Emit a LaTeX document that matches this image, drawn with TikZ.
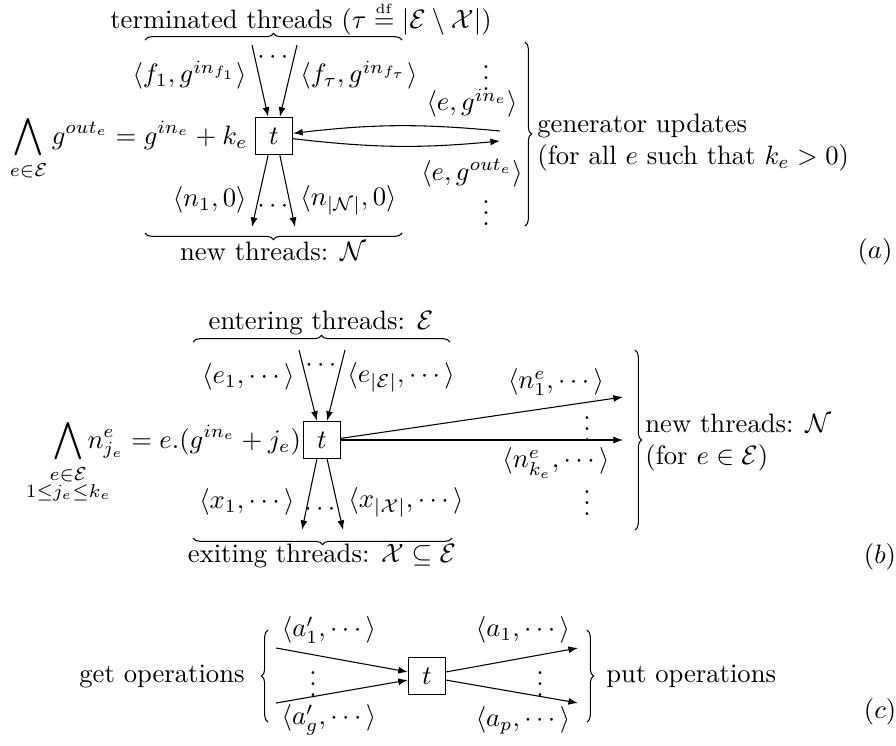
\documentclass[tikz,border=0pt]{standalone}
\usepackage{amsmath,amssymb,mathtools}
\usetikzlibrary{arrows.meta,positioning,decorations.pathreplacing}

\begin{document}
\begin{tikzpicture}[x=0.0132cm, y=-0.0132cm,
    box/.style={draw, minimum size=14pt, inner sep=0pt},
    arr/.style={-{Latex[length=3.6pt,width=2.6pt]}},
    curly/.style={decorate, decoration={brace, amplitude=2.5pt}},
    dotsn/.style={inner sep=0pt},
]
  \useasboundingbox (0,0) rectangle (896,745);

  \node[box] (ta) at (274,136) {$t$};
  \node[anchor=base east, inner sep=2.5pt] (lhsa) at (ta.base west)
    {$\displaystyle\bigwedge_{e\in\mathcal{E}} g^{out_e} = g^{in_e}+k_e$};
  \node (terma) at (301,18) {terminated threads ($\tau \stackrel{\scriptscriptstyle\mathrm{df}}{=} |\mathcal{E}\setminus\mathcal{X}|$)};
  \coordinate (fa0) at (252,45);
  \coordinate (fz0) at (297,45);
  \coordinate (na1) at (252,227);
  \coordinate (nz1) at (295,227);
  \node[anchor=east] (fa) at (256,75) {$\langle f_1, g^{in_{f_1}}\rangle$};
  \node[anchor=west] (fz) at (291,75) {$\langle f_\tau, g^{in_{f_\tau}}\rangle$};
  \node[dotsn] (dfa) at (275,58) {$\cdots$};
  \node[anchor=east] (na) at (256,200) {$\langle n_1, 0\rangle$};
  \node[anchor=west] (nz) at (291,200) {$\langle n_{|\mathcal{N}|}, 0\rangle$};
  \node[dotsn] (dna) at (275,207) {$\cdots$};
  \draw[arr] (fa0) -- (ta.107);
  \draw[arr] (fz0) -- (ta.73);
  \draw[arr] (ta.253) -- (na1);
  \draw[arr] (ta.287) -- (nz1);
  \draw[curly] (145,40) -- (402,40);
  \draw[curly] (402,233) -- (145,233);
  \node (newa) at (273,251) {new threads: $\mathcal{N}$};

  \coordinate (gin) at (500,131);
  \coordinate (gout) at (500,141);
  \draw[arr] (gin) to[bend right=6] (ta.8);
  \draw[arr] (ta.-8) to[bend right=6] (gout);
  \node[dotsn] (dga) at (486,70) {$\vdots$};
  \node (gia) at (472,103) {$\langle e, g^{in_e}\rangle$};
  \node (goa) at (472,173) {$\langle e, g^{out_e}\rangle$};
  \node[dotsn] (dgz) at (486,205) {$\vdots$};
  \draw[curly] (525,42) -- (525,226);
  \node[anchor=west, align=left] (gen) at (528,143) {generator updates\\(for all $e$ such that $k_e>0$)};
  \node (taga) at (875,252) {$(a)$};

  \node[box] (tb) at (322,440) {$t$};
  \node[anchor=base east, inner sep=0.5pt] (lhsb) at (tb.base west)
    {$\displaystyle\bigwedge_{\mathclap{\substack{e\in\mathcal{E}\\1\le j_e\le k_e}}} n^e_{j_e} = e.(g^{in_e}+j_e)$};
  \node (entb) at (321,323) {entering threads: $\mathcal{E}$};
  \coordinate (ea0) at (299,350);
  \coordinate (ez0) at (345,350);
  \coordinate (xa1) at (302,530);
  \coordinate (xz1) at (343,530);
  \node[anchor=east] (ea) at (304,377) {$\langle e_1, \cdots\rangle$};
  \node[anchor=west] (ez) at (338,377) {$\langle e_{|\mathcal{E}|}, \cdots\rangle$};
  \node[dotsn] (deb) at (323,366) {$\cdots$};
  \node[anchor=east] (xa) at (304,502) {$\langle x_1, \cdots\rangle$};
  \node[anchor=west] (xz) at (339,502) {$\langle x_{|\mathcal{X}|}, \cdots\rangle$};
  \node[dotsn] (dxb) at (322,510) {$\cdots$};
  \draw[arr] (ea0) -- (tb.105);
  \draw[arr] (ez0) -- (tb.75);
  \draw[arr] (tb.255) -- (xa1);
  \draw[arr] (tb.285) -- (xz1);
  \draw[curly] (193,342) -- (450,342);
  \draw[curly] (452,538) -- (193,538);
  \node (exb) at (322,556) {exiting threads: $\mathcal{X}\subseteq\mathcal{E}$};

  \coordinate (n1) at (623,397);
  \coordinate (nk) at (623,440);
  \draw[arr] (tb.5) -- (n1);
  \draw[arr] (tb.east) -- (nk);
  \node (n1b) at (556,382) {$\langle n^e_1, \cdots\rangle$};
  \node[dotsn] (dnb) at (587,421) {$\vdots$};
  \node (nkb) at (556,463) {$\langle n^e_{k_e}, \cdots\rangle$};
  \node[dotsn] (dnz) at (587,495) {$\vdots$};
  \draw[curly] (635,350) -- (635,530);
  \node[anchor=west, align=left] (newb) at (636,443) {new threads: $\mathcal{N}$\\(for $e\in\mathcal{E}$)};
  \node (tagb) at (880,557) {$(b)$};

  \node[box] (tc) at (427,676) {$t$};
  \coordinate (g1) at (276,648);
  \coordinate (gg) at (276,703);
  \coordinate (p1) at (578,648);
  \coordinate (pp) at (578,703);
  \draw[arr] (g1) -- (tc.168);
  \draw[arr] (gg) -- (tc.192);
  \draw[arr] (tc.12) -- (p1);
  \draw[arr] (tc.-12) -- (pp);
  \node (g1c) at (329,630) {$\langle a'_1, \cdots\rangle$};
  \node[dotsn] (dgc) at (313,676) {$\vdots$};
  \node (ggc) at (329,720) {$\langle a'_g, \cdots\rangle$};
  \node (p1c) at (523,630) {$\langle a_1, \cdots\rangle$};
  \node[dotsn] (dpc) at (540,676) {$\vdots$};
  \node (ppc) at (523,720) {$\langle a_p, \cdots\rangle$};
  \draw[curly] (268,722) -- (268,630);
  \draw[curly] (587,630) -- (587,722);
  \node[anchor=east] (getc) at (254,676) {get operations};
  \node[anchor=west] (putc) at (597,676) {put operations};
  \node (tagc) at (880,712) {$(c)$};
\end{tikzpicture}
\end{document}
